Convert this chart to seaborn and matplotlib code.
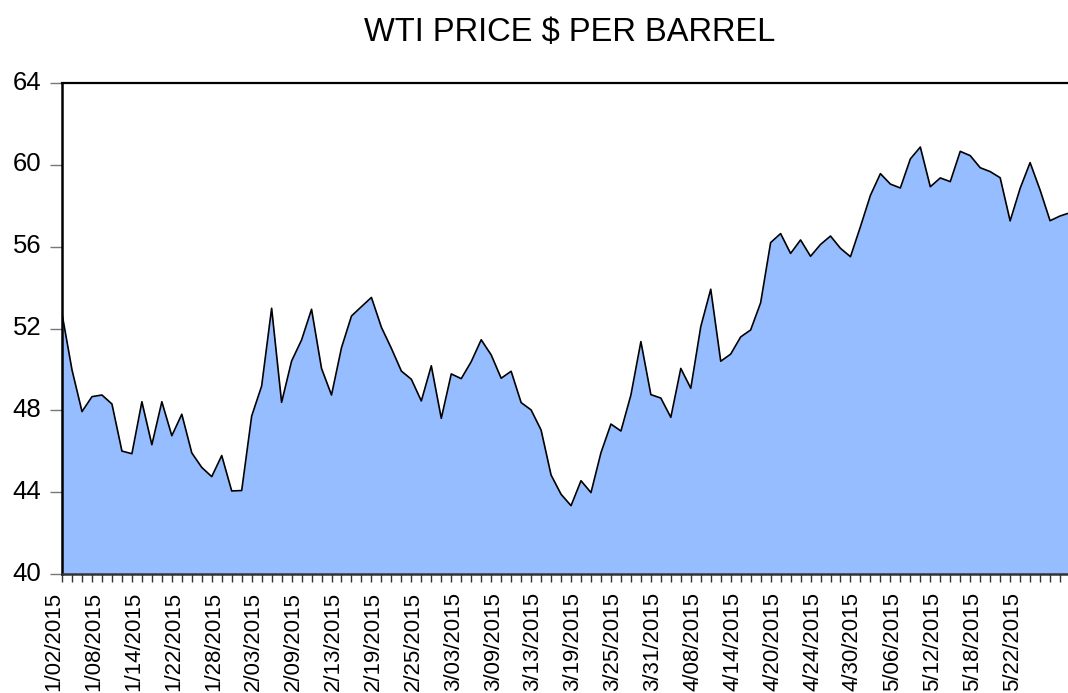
import numpy as np
import pandas as pd
import seaborn as sns
import matplotlib.pyplot as plt
from matplotlib import transforms

# WTI daily close, one value per trading day
price = [52.71, 49.97, 47.94, 48.67, 48.75, 48.31, 46.01, 45.88, 48.42, 46.32,
         48.42, 46.76, 47.81, 45.92, 45.21, 44.76, 45.79, 44.06, 44.08, 47.72,
         49.19, 52.99, 48.39, 50.41, 51.44, 52.94, 50.05, 48.75, 51.06, 52.61,
         53.07, 53.52, 52.06, 51.03, 49.92, 49.52, 48.46, 50.18, 47.61, 49.78,
         49.55, 50.38, 51.45, 50.71, 49.57, 49.91, 48.38, 48.02, 47.04, 44.84,
         43.90, 43.34, 44.56, 43.98, 45.93, 47.33, 46.99, 48.75, 51.36, 48.77,
         48.60, 47.66, 50.05, 49.08, 52.09, 53.92, 50.40, 50.75, 51.59, 51.93,
         53.26, 56.20, 56.64, 55.67, 56.33, 55.53, 56.11, 56.52, 55.92, 55.51,
         56.98, 58.51, 59.57, 59.06, 58.87, 60.29, 60.87, 58.93, 59.36, 59.18,
         60.66, 60.45, 59.86, 59.67, 59.37, 57.26, 58.85, 60.11, 58.77, 57.27,
         57.50, 57.66]

# every 4th observation gets a date label
tick_labels = ['1/02/2015', '1/08/2015', '1/14/2015', '1/22/2015', '1/28/2015',
               '2/03/2015', '2/09/2015', '2/13/2015', '2/19/2015', '2/25/2015',
               '3/03/2015', '3/09/2015', '3/13/2015', '3/19/2015', '3/25/2015',
               '3/31/2015', '4/08/2015', '4/14/2015', '4/20/2015', '4/24/2015',
               '4/30/2015', '5/06/2015', '5/12/2015', '5/18/2015', '5/22/2015']
label_step = 4

df = pd.DataFrame({'obs': np.arange(len(price)), 'price': price})

sns.set_style("white")
plt.rcParams['font.family'] = ['Liberation Sans', 'DejaVu Sans']
plt.rcParams['text.color'] = 'black'
plt.rcParams['xtick.labelcolor'] = 'black'
plt.rcParams['ytick.labelcolor'] = 'black'

fig = plt.figure(figsize=(10.68, 6.93), dpi=100)
ax = fig.add_axes([0.0581, 0.1717, 0.9438, 0.7085])

ax.fill_between(df['obs'], df['price'], 40, color='#95BDFF', linewidth=0)
sns.lineplot(data=df, x='obs', y='price', ax=ax, color='black', linewidth=1.2)

ax.set_xlim(0, len(price) - 1)
ax.set_ylim(40, 64)
ax.set_xlabel('')
ax.set_ylabel('')

ax.set_yticks(range(40, 65, 4))
ax.set_xticks(np.arange(len(price)), minor=True)
ax.set_xticks(np.arange(len(tick_labels)) * label_step)
ax.set_xticklabels(tick_labels, rotation=90, ha='center', va='top')

ax.tick_params(axis='x', which='both', bottom=True, direction='out', length=6,
               width=1, color='#333333', pad=7, labelsize=16, labelcolor='black')
ax.tick_params(axis='y', left=True, direction='out', length=9, width=1,
               color='#777777', pad=6, labelsize=18.5, labelcolor='black')

# labels sit slightly left of the ticks / slightly above in the original
for lbl in ax.get_xticklabels():
    lbl.set_transform(lbl.get_transform() + transforms.ScaledTranslation(-0.08, 0, fig.dpi_scale_trans))
for lbl in ax.get_yticklabels():
    lbl.set_transform(lbl.get_transform() + transforms.ScaledTranslation(0, 0.03, fig.dpi_scale_trans))

ax.spines['right'].set_visible(False)
ax.spines['left'].set_linewidth(1.8)
ax.spines['left'].set_color('black')
ax.spines['top'].set_linewidth(1.6)
ax.spines['top'].set_color('black')
ax.spines['bottom'].set_linewidth(1.8)
ax.spines['bottom'].set_color('#333333')

fig.text(570 / 1068, 1 - 32 / 693, 'WTI PRICE $ PER BARREL', ha='center', va='center',
         fontsize=23.5, color='black')

fig.savefig('out.png', dpi=100)
